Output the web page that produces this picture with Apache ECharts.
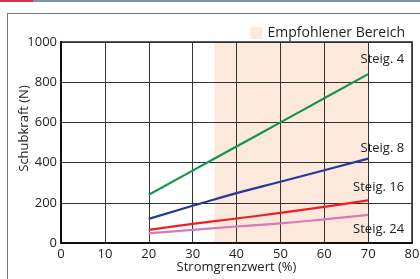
<!DOCTYPE html>
<html lang="de">
<head>
    <meta charset="UTF-8">
    <title>Schubkraft</title>
    <script src="https://cdn.jsdelivr.net/npm/echarts@6/dist/echarts.min.js"></script>
    <style>
        html, body { margin: 0; padding: 0; background: #fff; }
        #topbar { position: absolute; left: 0; top: 0; width: 420px; height: 2px; background: #7d95a8; }
        #topbar i { position: absolute; left: 0; top: 0; width: 33px; height: 2px; background: #d0304f; }
        #frame { position: absolute; left: 7px; top: 13px; width: 420px; height: 300px; border-left: 1px solid #777; border-top: 1px solid #777; }
        #main { position: absolute; left: 0; top: 0; width: 420px; height: 279px; }
    </style>
</head>
<body>
<div id="topbar"><i></i></div>
<div id="frame"></div>
<div id="main"></div>
<script type="text/javascript">
    // Stromgrenzwert (%)
    var xWerte = [20, 30, 40, 50, 60, 70];
    var steig4  = [240, 360, 480, 600, 720, 840];
    var steig8  = [120, 185, 248, 305, 362, 420];
    var steig16 = [65, 95, 122, 150, 180, 212];
    var steig24 = [48, 65, 82, 98, 118, 140];
    var bereich = [35, 70];

    var font = '"Open Sans", sans-serif';

    function paare(ys) {
        return xWerte.map(function (x, i) { return [x, ys[i]]; });
    }

    function linie(name, ys, farbe, dy) {
        return {
            name: name,
            type: 'line',
            data: paare(ys),
            symbol: 'none',
            smooth: true,
            z: 3,
            lineStyle: { color: farbe, width: 2.2 },
            endLabel: {
                show: true,
                formatter: '{a}',
                align: 'right',
                verticalAlign: 'middle',
                offset: [28, dy],
                fontFamily: font,
                fontSize: 13,
                color: '#222'
            }
        };
    }

    var myChart = echarts.init(document.getElementById('main'));
    var option = {
        animation: false,
        textStyle: { fontFamily: font },
        legend: {
            data: [{ name: 'Empfohlener Bereich', icon: 'rect' }],
            right: 10,
            top: 21,
            itemWidth: 12,
            itemHeight: 12,
            itemGap: 5,
            textStyle: { fontFamily: font, fontSize: 14, color: '#222' }
        },
        grid: {
            left: 61,
            right: 8,
            top: 42,
            bottom: 36,
            outerBoundsMode: 'none',
            containLabel: false,
            show: true,
            borderColor: '#222',
            borderWidth: 1.5
        },
        xAxis: {
            type: 'value',
            min: 0,
            max: 80,
            interval: 10,
            z: 2,
            name: 'Stromgrenzwert (%)',
            nameLocation: 'middle',
            nameGap: 18,
            nameMoveOverlap: false,
            nameTextStyle: { fontFamily: font, fontSize: 13, color: '#222' },
            axisLine: { lineStyle: { color: '#111', width: 2 } },
            axisTick: { show: false },
            axisLabel: { fontFamily: font, fontSize: 13, color: '#222', margin: 5 },
            splitLine: { lineStyle: { color: '#333', width: 1 } }
        },
        yAxis: {
            type: 'value',
            min: 0,
            max: 1000,
            interval: 200,
            z: 2,
            name: 'Schubkraft (N)',
            nameLocation: 'middle',
            nameGap: 30,
            nameMoveOverlap: false,
            nameTextStyle: { fontFamily: font, fontSize: 13, color: '#222', padding: [0, 0, 0, 28] },
            axisLine: { show: true, lineStyle: { color: '#111', width: 2 } },
            axisTick: { show: false },
            axisLabel: {
                fontFamily: font, fontSize: 13, color: '#222', margin: 4,
                formatter: function (v) { return String(v); }
            },
            splitLine: { lineStyle: { color: '#333', width: 1 } }
        },
        series: [
            {
                name: 'Empfohlener Bereich',
                type: 'line',
                data: [],
                z: 1,
                itemStyle: { color: '#fde8dc' },
                markArea: {
                    silent: true,
                    itemStyle: { color: '#fde8dc' },
                    data: [[{ xAxis: bereich[0] }, { xAxis: bereich[1] }]]
                }
            },
            linie('Steig. 4', steig4, '#12964f', -15),
            linie('Steig. 8', steig8, '#26399a', -10),
            linie('Steig. 16', steig16, '#f01e23', -13),
            linie('Steig. 24', steig24, '#d97ab8', 14)
        ]
    };
    myChart.setOption(option);
</script>
</body>
</html>
